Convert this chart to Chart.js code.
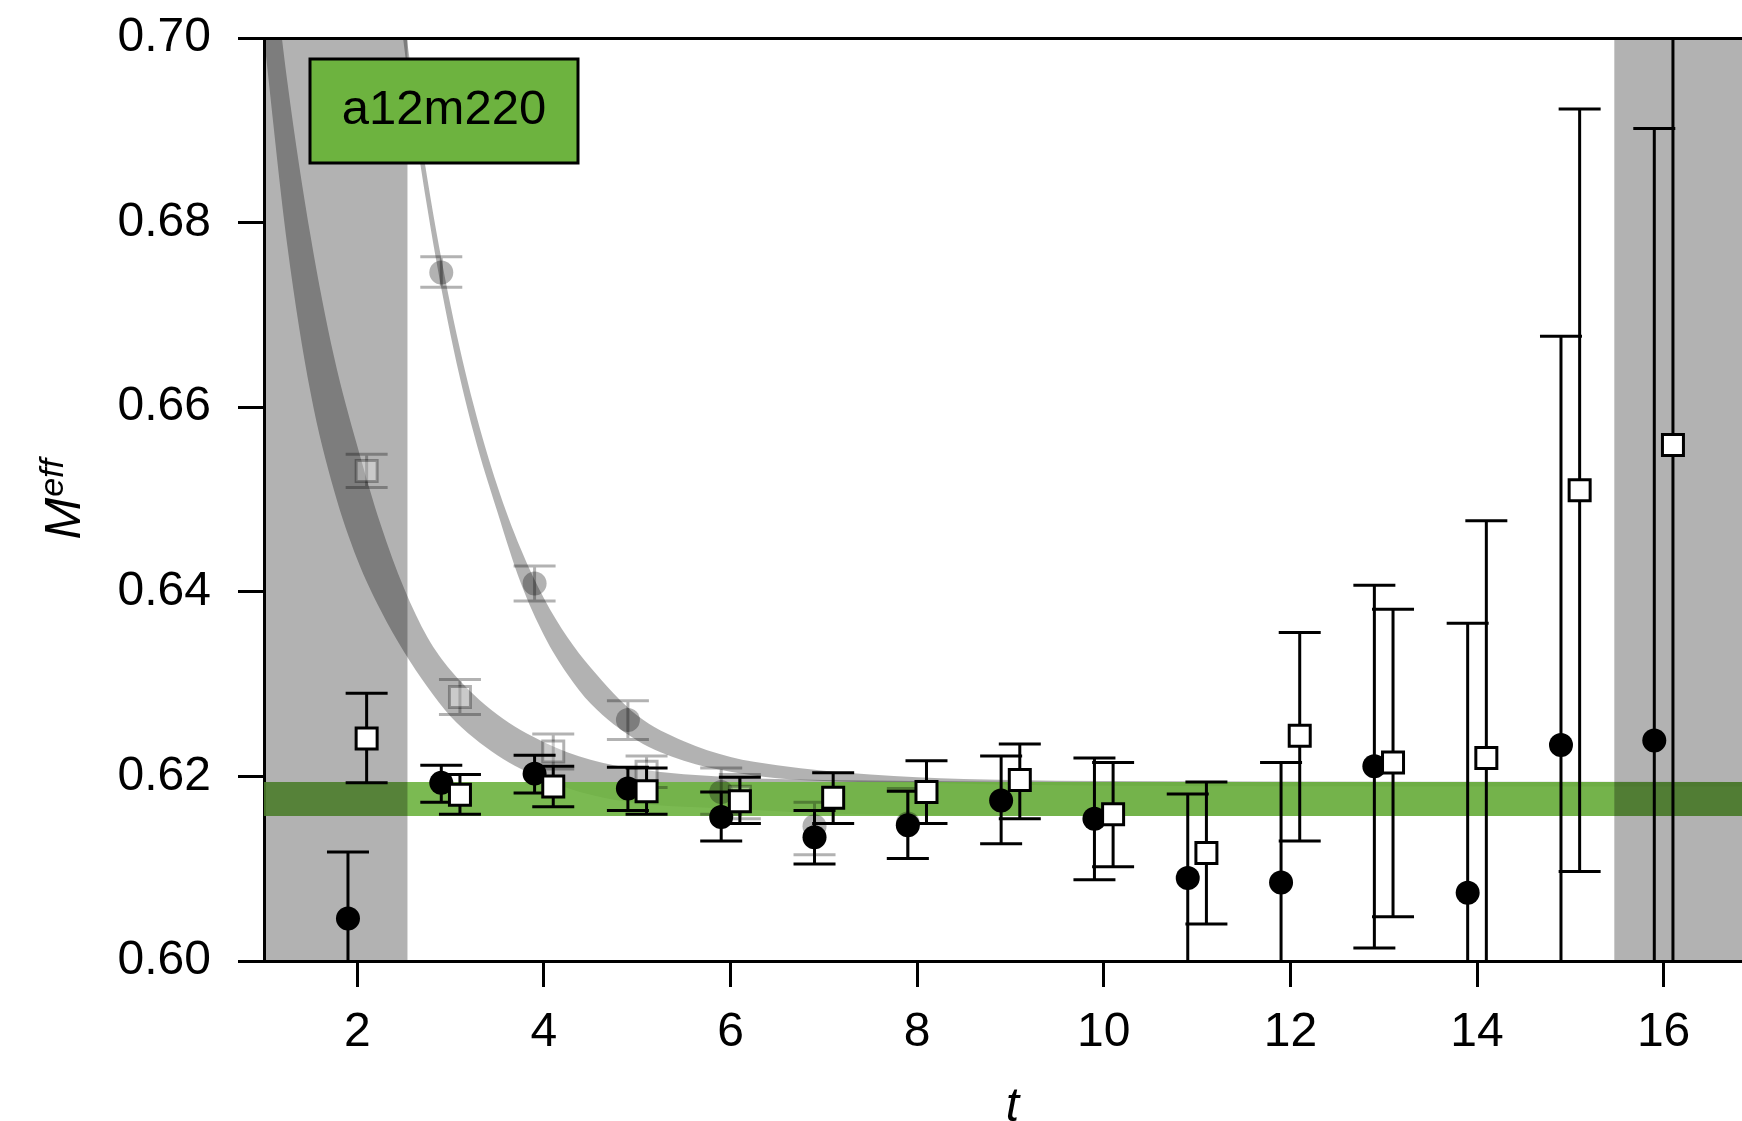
<!DOCTYPE html>
<html>
<head>
<meta charset="utf-8">
<script src="https://cdn.jsdelivr.net/npm/chart.js"></script>
<style>
  html, body { margin: 0; padding: 0; background: #fff; overflow: hidden; }
  canvas { display: block; }
</style>
</head>
<body>
<canvas id="chart" width="1742" height="1150"></canvas>
<script>
const FONT = "'Liberation Sans', Arial, Helvetica, sans-serif";

// axis ticks and range (the figure is cropped at the right edge)
const xTicks = [2, 4, 6, 8, 10, 12, 14, 16];
const yTicks = [0.60, 0.62, 0.64, 0.66, 0.68, 0.70];
const xRange = [1, 16.84];
const xTitleAt = 9;  // the original axis runs 1..17, title sits at its middle

// effective mass data, t = 2..16
const timeSlices = [2, 3, 4, 5, 6, 7, 8, 9, 10, 11, 12, 13, 14, 15, 16];
const circleVals = [0.6046, 0.6193, 0.6203, 0.6187, 0.6156, 0.6134, 0.6147, 0.6174, 0.6154, 0.6090, 0.6085, 0.6211, 0.6074, 0.6234, 0.6239];
const circleLo   = [0.5974, 0.6172, 0.6182, 0.6163, 0.6130, 0.6105, 0.6111, 0.6127, 0.6088, 0.5999, 0.5955, 0.6014, 0.5782, 0.5791, 0.5576];
const circleHi   = [0.6118, 0.6212, 0.6223, 0.6210, 0.6183, 0.6163, 0.6184, 0.6222, 0.6220, 0.6181, 0.6215, 0.6407, 0.6366, 0.6677, 0.6902];
const squareVals = [0.6241, 0.6180, 0.6189, 0.6184, 0.6173, 0.6177, 0.6183, 0.6196, 0.6159, 0.6117, 0.6244, 0.6215, 0.6220, 0.6510, 0.6559];
const squareLo   = [0.6193, 0.6159, 0.6167, 0.6159, 0.6149, 0.6149, 0.6149, 0.6154, 0.6102, 0.6040, 0.6130, 0.6048, 0.5963, 0.6097, 0.5859];
const squareHi   = [0.6290, 0.6202, 0.6211, 0.6209, 0.6199, 0.6204, 0.6217, 0.6235, 0.6215, 0.6194, 0.6356, 0.6381, 0.6477, 0.6923, 0.7259];

// faded (unsubtracted) points
const fadedCircleT    = [3, 4, 5, 6, 7, 8];
const fadedCircleVals = [0.6746, 0.6409, 0.6261, 0.6183, 0.6146, 0.6149];
const fadedCircleLo   = [0.6730, 0.6390, 0.6240, 0.6159, 0.6115, 0.6111];
const fadedCircleHi   = [0.6763, 0.6428, 0.6282, 0.6209, 0.6172, 0.6187];
const fadedSquareT    = [2, 3, 4, 5, 6];
const fadedSquareVals = [0.6531, 0.6286, 0.6227, 0.6205, 0.6178];
const fadedSquareLo   = [0.6513, 0.6267, 0.6208, 0.6188, 0.6154];
const fadedSquareHi   = [0.6549, 0.6305, 0.6246, 0.6222, 0.6202];

// fit bands
const bandAT  = [1.0, 1.25, 1.5, 1.75, 2.0, 2.25, 2.5, 2.75, 3.0, 3.5, 4.0, 4.5, 5.0, 6.0, 7.0, 8.0, 10.0, 17.0];
const bandAHi = [0.7169, 0.6953, 0.6785, 0.6655, 0.6558, 0.6473, 0.6404, 0.6351, 0.6315, 0.6267, 0.6237, 0.6218, 0.6208, 0.6199, 0.6196, 0.6195, 0.6194, 0.6194];
const bandALo = [0.7000, 0.6775, 0.6615, 0.6510, 0.6435, 0.6380, 0.6335, 0.6297, 0.6265, 0.6223, 0.6197, 0.6180, 0.6171, 0.6165, 0.6160, 0.6158, 0.6157, 0.6157];
const bandBT  = [2.3, 2.5, 2.75, 3.0, 3.25, 3.5, 3.75, 4.0, 4.25, 4.5, 5.0, 5.5, 6.0, 6.5, 7.0, 8.0, 9.0, 10.0, 17.0];
const bandBHi = [0.7208, 0.7024, 0.6848, 0.6710, 0.6601, 0.6515, 0.6447, 0.6393, 0.6351, 0.6318, 0.6266, 0.6238, 0.6221, 0.6212, 0.6206, 0.6199, 0.6196, 0.6195, 0.6194];
const bandBLo = [0.7179, 0.6992, 0.6816, 0.6678, 0.6571, 0.6487, 0.6410, 0.6353, 0.6311, 0.6279, 0.6239, 0.6217, 0.6205, 0.6198, 0.6195, 0.6193, 0.6191, 0.6190, 0.6189];

// ground state band
const e0T  = [1, 17];
const e0Lo = [0.6157, 0.6157];
const e0Hi = [0.6194, 0.6194];

// excluded t ranges
const excludedLeft  = [1, 2.54];
const excludedRight = [15.47, 17];

const ensembleLabel = 'a12m220';
const shift = 0.1;

const pts = (xs, ys, dx = 0) => xs.map((x, i) => ({ x: x + dx, y: ys[i] }));

const bandLine = (xs, ys, fill, color) => ({
  type: 'line', data: pts(xs, ys), borderWidth: 0, pointRadius: 0,
  cubicInterpolationMode: 'monotone', fill: fill, backgroundColor: color
});

const region = (xs, color) => ({
  type: 'line', data: xs.map(x => ({ x: x, y: yTicks[yTicks.length - 1] })),
  borderWidth: 0, pointRadius: 0, fill: 'start', backgroundColor: color
});

const marker = (xs, ys, lo, hi, dx, style) => Object.assign({
  type: 'scatter', data: pts(xs, ys, dx),
  errLo: lo, errHi: hi
}, style);

const gray = 'rgba(0,0,0,0.3)';

const datasets = [
  bandLine(bandAT, bandALo, false, gray),
  bandLine(bandAT, bandAHi, '-1', gray),
  bandLine(bandBT, bandBLo, false, gray),
  bandLine(bandBT, bandBHi, '-1', gray),
  bandLine(e0T, e0Lo, false, 'rgba(109,179,63,0.9)'),
  bandLine(e0T, e0Hi, '-1', 'rgba(109,179,63,0.9)'),
  region(excludedLeft, gray),
  region(excludedRight, gray),
  marker(fadedCircleT, fadedCircleVals, fadedCircleLo, fadedCircleHi, -shift, {
    pointStyle: 'circle', pointRadius: 12, pointBorderWidth: 0,
    pointBackgroundColor: 'rgba(0,0,0,0.3)', errColor: 'rgba(0,0,0,0.3)'
  }),
  marker(fadedSquareT, fadedSquareVals, fadedSquareLo, fadedSquareHi, shift, {
    pointStyle: 'rect', pointRadius: 14.85, pointBorderWidth: 3,
    pointBackgroundColor: 'rgba(255,255,255,0.3)', pointBorderColor: 'rgba(0,0,0,0.3)',
    errColor: 'rgba(0,0,0,0.3)'
  }),
  marker(timeSlices, circleVals, circleLo, circleHi, -shift, {
    pointStyle: 'circle', pointRadius: 12, pointBorderWidth: 0,
    pointBackgroundColor: '#000', errColor: '#000'
  }),
  marker(timeSlices, squareVals, squareLo, squareHi, shift, {
    pointStyle: 'rect', pointRadius: 14.85, pointBorderWidth: 3,
    pointBackgroundColor: '#fff', pointBorderColor: '#000', errColor: '#000'
  })
];
// first listed is drawn at the bottom
datasets.forEach((d, i) => {
  d.order = datasets.length - i;
  d.xAxisID = 'x';
  d.yAxisID = 'y';
});

const errorBars = {
  id: 'errorBars',
  beforeDatasetDraw(chart, args) {
    const ds = chart.data.datasets[args.index];
    if (!ds.errLo) return;
    const { ctx, chartArea: a } = chart;
    const xs = chart.scales.x, ys = chart.scales.y;
    ctx.save();
    ctx.beginPath();
    ctx.rect(a.left, a.top, a.right - a.left, a.bottom - a.top);
    ctx.clip();
    ctx.strokeStyle = ds.errColor;
    ctx.lineWidth = 3;
    ds.data.forEach((p, i) => {
      const px = xs.getPixelForValue(p.x);
      const top = ys.getPixelForValue(ds.errHi[i]);
      const bot = ys.getPixelForValue(ds.errLo[i]);
      ctx.beginPath();
      ctx.moveTo(px, top); ctx.lineTo(px, bot);
      ctx.moveTo(px - 21, top); ctx.lineTo(px + 21, top);
      ctx.moveTo(px - 21, bot); ctx.lineTo(px + 21, bot);
      ctx.stroke();
    });
    ctx.restore();
  }
};

const decorations = {
  id: 'decorations',
  afterDraw(chart) {
    const { ctx, chartArea: a } = chart;
    ctx.save();
    // ensemble label box
    const bx = a.left + 46, by = a.top + 21, bw = 268, bh = 104;
    ctx.fillStyle = '#6db33f';
    ctx.fillRect(bx, by, bw, bh);
    ctx.lineWidth = 3;
    ctx.strokeStyle = '#000';
    ctx.strokeRect(bx, by, bw, bh);
    ctx.fillStyle = '#000';
    ctx.font = '49px ' + FONT;
    ctx.textAlign = 'center';
    ctx.textBaseline = 'alphabetic';
    ctx.fillText(ensembleLabel, bx + bw / 2, by + 65);

    // x axis title
    ctx.font = 'italic 48px ' + FONT;
    ctx.textBaseline = 'middle';
    ctx.fillText('t', chart.scales.x.getPixelForValue(xTitleAt) + 2, a.bottom + 147);

    // y axis title M^eff
    ctx.textBaseline = 'alphabetic';
    ctx.translate(a.left - 184, (a.top + a.bottom) / 2 + 40);
    ctx.rotate(-Math.PI / 2);
    ctx.textAlign = 'left';
    ctx.font = 'italic 50px ' + FONT;
    ctx.fillText('M', 0, 0);
    const w = ctx.measureText('M').width;
    ctx.font = 'italic 34px ' + FONT;
    ctx.fillText('eff', w + 1, -17);
    ctx.restore();
  }
};

const noPad = s => { s.paddingTop = 0; s.paddingBottom = 0; s.paddingLeft = 0; s.paddingRight = 0; };

const axisGrid = { display: true, drawOnChartArea: false, drawTicks: true, tickLength: 26, tickWidth: 3, tickColor: '#000' };
const axisBorder = { display: true, color: '#000', width: 3 };

new Chart(document.getElementById('chart'), {
  type: 'scatter',
  data: { datasets: datasets },
  plugins: [errorBars, decorations],
  options: {
    responsive: false,
    animation: false,
    devicePixelRatio: 1,
    events: [],
    layout: { autoPadding: false, padding: { top: 38, left: 0, right: 0, bottom: 0 } },
    plugins: { legend: { display: false }, tooltip: { enabled: false } },
    scales: {
      x: {
        type: 'linear', position: 'bottom', min: xRange[0], max: xRange[1],
        afterBuildTicks: s => { s.ticks = xTicks.map(v => ({ value: v })); },
        afterFit: s => { s.height = 189; noPad(s); },
        grid: axisGrid, border: axisBorder,
        ticks: { font: { family: FONT, size: 48 }, color: '#000', padding: 17, maxRotation: 0, autoSkip: false }
      },
      y: {
        type: 'linear', position: 'left', min: 0.60, max: 0.70,
        afterBuildTicks: s => { s.ticks = yTicks.map(v => ({ value: v })); },
        afterFit: s => { s.width = 264; noPad(s); },
        grid: axisGrid, border: axisBorder,
        ticks: { font: { family: FONT, size: 48 }, color: '#000', padding: 27, callback: v => v.toFixed(2) }
      },
      x2: {
        type: 'linear', position: 'top', min: xRange[0], max: xRange[1],
        afterFit: s => { s.height = 0; noPad(s); },
        grid: { display: false }, border: axisBorder,
        ticks: { display: false }
      }
    }
  }
});
</script>
</body>
</html>
